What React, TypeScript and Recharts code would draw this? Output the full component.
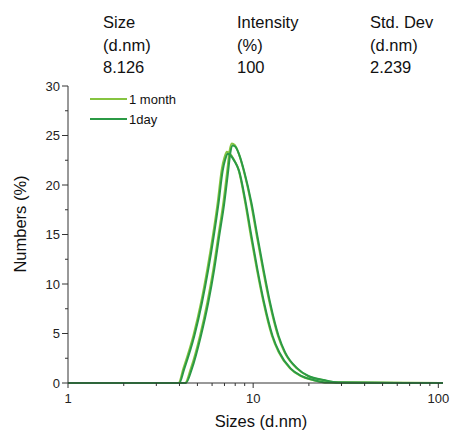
import React from "react";
import { LineChart, Line, XAxis, YAxis } from "recharts";

// ---- data ----
const MONTH_A_SIZES = [1, 3.95, 4.2, 4.76, 5.24, 5.66, 6.06, 6.44, 6.77, 7.0, 7.21, 7.5, 7.85, 8.32, 9.04, 9.7, 10.45, 11.35, 12.6, 13.7, 15.8, 18.0, 21.0, 25.0, 106];
const MONTH_A_VALUES = [0, 0, 1.48, 4.83, 8.2, 11.55, 14.9, 18.3, 21.6, 22.8, 23.35, 23.15, 22.6, 21.6, 18.3, 14.9, 11.55, 8.2, 4.83, 3.15, 1.48, 0.72, 0.3, 0.04, 0];

const MONTH_B_SIZES = [1, 4.29, 4.61, 5.17, 5.66, 6.1, 6.49, 6.91, 7.26, 7.45, 7.67, 7.95, 8.35, 8.85, 9.7, 10.45, 11.27, 12.23, 13.58, 14.73, 17.2, 19.8, 23.8, 28.5, 106];
const MONTH_B_VALUES = [0, 0, 1.48, 4.83, 8.2, 11.55, 14.9, 18.3, 21.6, 23.4, 24.2, 24.05, 23.2, 21.6, 18.3, 14.9, 11.55, 8.2, 4.83, 3.15, 1.48, 0.7, 0.3, 0.05, 0];

const DAY_A_SIZES = [1, 3.99, 4.24, 4.81, 5.29, 5.72, 6.12, 6.5, 6.84, 7.07, 7.28, 7.58, 7.93, 8.4, 9.13, 9.8, 10.55, 11.46, 12.73, 13.84, 15.96, 18.18, 21.2, 25.25, 106];
const DAY_A_VALUES = [0, 0, 1.4, 4.75, 8.1, 11.45, 14.8, 18.15, 21.4, 22.6, 23.15, 22.95, 22.4, 21.4, 18.15, 14.8, 11.45, 8.1, 4.75, 3.1, 1.45, 0.72, 0.3, 0.04, 0];

const DAY_B_SIZES = [1, 4.33, 4.66, 5.22, 5.72, 6.16, 6.55, 6.98, 7.33, 7.52, 7.75, 8.03, 8.43, 8.94, 9.8, 10.55, 11.38, 12.35, 13.72, 14.88, 17.37, 20.0, 24.04, 28.8, 106];
const DAY_B_VALUES = [0, 0, 1.4, 4.75, 8.1, 11.45, 14.8, 18.15, 21.4, 23.2, 24.0, 23.85, 23.0, 21.4, 18.15, 14.8, 11.45, 8.1, 4.75, 3.1, 1.45, 0.68, 0.3, 0.05, 0];

const X_TICKS = [1, 2, 3, 4, 5, 6, 7, 8, 9, 10, 20, 30, 40, 50, 60, 70, 80, 90, 100];
const X_LABELS = [1, 10, 100];
const Y_TICKS = [0, 2.5, 5, 7.5, 10, 12.5, 15, 17.5, 20, 22.5, 25, 27.5, 30];
const Y_LABELS = [0, 5, 10, 15, 20, 25, 30];

const HEADERS = [
  ["Size", "(d.nm)", "8.126"],
  ["Intensity", "(%)", "100"],
  ["Std. Dev", "(d.nm)", "2.239"],
];
const LEGEND = [
  { name: "1 month", color: "#86c440" },
  { name: "1day", color: "#2b9a45" },
];

const toPts = (xs: number[], ys: number[]) => xs.map((x, i) => ({ x, y: ys[i] }));
const monthA = toPts(MONTH_A_SIZES, MONTH_A_VALUES);
const monthB = toPts(MONTH_B_SIZES, MONTH_B_VALUES);
const dayA = toPts(DAY_A_SIZES, DAY_A_VALUES);
const dayB = toPts(DAY_B_SIZES, DAY_B_VALUES);

const FONT = "'Liberation Sans', Arial, sans-serif";
const AXIS = "#333";

const XTick = (props: any) => {
  const { x, y, payload } = props;
  const major = X_LABELS.includes(payload.value);
  return (
    <g>
      <line x1={x} x2={x} y1={y} y2={y + (major ? 5 : 3)} stroke={AXIS} strokeWidth={1} />
      {major && (
        <text x={x} y={y + 20} textAnchor="middle" fontSize={13} fontFamily={FONT} fill="#222">
          {payload.value}
        </text>
      )}
    </g>
  );
};

const YTick = (props: any) => {
  const { x, y, payload } = props;
  const major = Y_LABELS.includes(payload.value);
  return (
    <g>
      <line x1={x - (major ? 6 : 3)} x2={x} y1={y} y2={y} stroke={AXIS} strokeWidth={1} />
      {major && (
        <text x={x - 8} y={y + 4.5} textAnchor="end" fontSize={13} fontFamily={FONT} fill="#222">
          {payload.value}
        </text>
      )}
    </g>
  );
};

export default function App() {
  const colX = [103, 237, 370];
  const rowY = [28, 51, 73];
  return (
    <div style={{ position: "absolute", left: 0, top: 0, width: 453, height: 430, background: "#fff" }}>
      <LineChart width={453} height={430} margin={{ top: 86, right: 10, bottom: 0, left: 0 }}>
        <XAxis
          dataKey="x"
          type="number"
          scale="log"
          domain={[1, 106]}
          allowDataOverflow
          ticks={X_TICKS}
          interval={0}
          tick={<XTick />}
          tickLine={false}
          tickSize={0}
          tickMargin={0}
          height={47}
          axisLine={{ stroke: AXIS, strokeWidth: 1 }}
        />
        <YAxis
          type="number"
          domain={[0, 30]}
          ticks={Y_TICKS}
          interval={0}
          tick={<YTick />}
          tickLine={false}
          tickSize={0}
          tickMargin={0}
          width={68}
          axisLine={{ stroke: AXIS, strokeWidth: 1 }}
        />
        <Line data={monthA} dataKey="y" type="monotone" stroke={LEGEND[0].color} strokeWidth={2} dot={false} isAnimationActive={false} />
        <Line data={monthB} dataKey="y" type="monotone" stroke={LEGEND[0].color} strokeWidth={2} dot={false} isAnimationActive={false} />
        <Line data={dayA} dataKey="y" type="monotone" stroke={LEGEND[1].color} strokeWidth={2} dot={false} isAnimationActive={false} />
        <Line data={dayB} dataKey="y" type="monotone" stroke={LEGEND[1].color} strokeWidth={2} dot={false} isAnimationActive={false} />
      </LineChart>
      <svg width={453} height={430} style={{ position: "absolute", left: 0, top: 0, pointerEvents: "none" }}>
        {HEADERS.map((col, ci) =>
          col.map((t, ri) => (
            <text key={ci + "-" + ri} x={colX[ci]} y={rowY[ri]} fontSize={16.5} fontFamily={FONT} fill="#111">
              {t}
            </text>
          ))
        )}
        {LEGEND.map((l, i) => (
          <g key={l.name}>
            <line x1={90} x2={127} y1={99 + i * 20} y2={99 + i * 20} stroke={l.color} strokeWidth={2} />
            <text x={129} y={104 + i * 20} fontSize={13} fontFamily={FONT} fill="#111">
              {l.name}
            </text>
          </g>
        ))}
        <text x={261} y={427} textAnchor="middle" fontSize={16.5} fontFamily={FONT} fill="#111">
          Sizes (d.nm)
        </text>
        <text
          x={26}
          y={224}
          textAnchor="middle"
          fontSize={16.5}
          fontFamily={FONT}
          fill="#111"
          transform="rotate(-90 26 224)"
        >
          Numbers (%)
        </text>
      </svg>
    </div>
  );
}
